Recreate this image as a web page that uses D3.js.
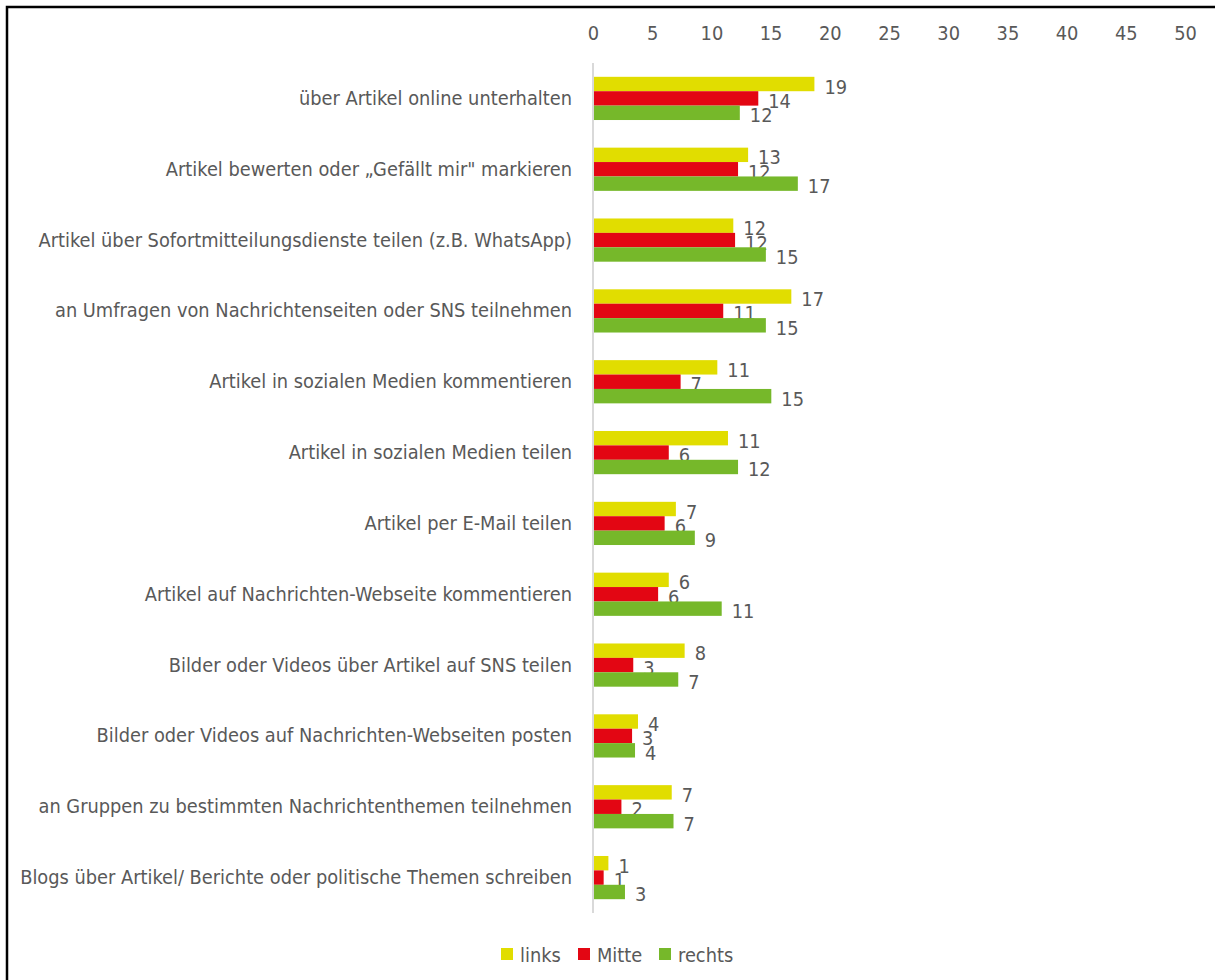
<!DOCTYPE html>
<html><head><meta charset="utf-8">
<script src="https://cdn.jsdelivr.net/npm/d3@7"></script>
<style>
html,body{margin:0;padding:0;background:#fff;}
svg{display:block;}
text{font-family:"Liberation Sans Narrow","DejaVu Sans Condensed","Roboto",sans-serif;fill:#595959;}
</style></head><body>
<svg id="chart" width="1215" height="980"></svg>
<script>
const categories = [
  "über Artikel online unterhalten",
  "Artikel bewerten oder „Gefällt mir\" markieren",
  "Artikel über Sofortmitteilungsdienste teilen (z.B. WhatsApp)",
  "an Umfragen von Nachrichtenseiten oder SNS teilnehmen",
  "Artikel in sozialen Medien kommentieren",
  "Artikel in sozialen Medien teilen",
  "Artikel per E-Mail teilen",
  "Artikel auf Nachrichten-Webseite kommentieren",
  "Bilder oder Videos über Artikel auf SNS teilen",
  "Bilder oder Videos auf Nachrichten-Webseiten posten",
  "an Gruppen zu bestimmten Nachrichtenthemen teilnehmen",
  "Blogs über Artikel/ Berichte oder politische Themen schreiben"
];
const seriesNames = ["links", "Mitte", "rechts"];
const links  = [18.7, 13.1, 11.85, 16.75, 10.5, 11.4, 7.0, 6.4, 7.74, 3.8, 6.65, 1.3];
const mitte  = [13.96, 12.25, 12.0, 11.0, 7.4, 6.4, 6.05, 5.5, 3.4, 3.3, 2.4, 0.9];
const rechts = [12.4, 17.3, 14.6, 14.6, 15.06, 12.25, 8.6, 10.87, 7.2, 3.55, 6.8, 2.7];
const tickValues = [0, 5, 10, 15, 20, 25, 30, 35, 40, 45, 50];
const colors = ["#e1dd00", "#e30613", "#76b82a"];

const seriesValues = [links, mitte, rechts];
const svg = d3.select("#chart");

// frame
svg.append("path").attr("d", "M7,1000 L7,7 L1230,7").attr("fill", "none")
  .attr("stroke", "#000").attr("stroke-width", 2.5);

const x = d3.scaleLinear().domain([0, 50]).range([593, 1185]);
const y = d3.scaleBand().domain(categories).range([63, 913]).paddingInner(0.39).paddingOuter(0.195);
const ySub = d3.scaleBand().domain(seriesNames).range([0, y.bandwidth()]);

// fit font size to reference label width
const probe = svg.append("text").attr("font-size", 20).text(categories[11]);
const w20 = probe.node().getComputedTextLength();
probe.remove();
const fs = Math.min(26, 20 * 552 / w20);

// top axis
const axis = d3.axisTop(x).tickValues(tickValues).tickSize(0).tickPadding(0);
const gA = svg.append("g").attr("transform", "translate(0,40)").call(axis);
gA.select(".domain").remove();
gA.selectAll("text").attr("font-size", fs).attr("fill", "#595959")
  .style("font-family", "'Liberation Sans Narrow','DejaVu Sans Condensed',Roboto,sans-serif");

// vertical axis line
svg.append("line").attr("x1", x(0)).attr("x2", x(0)).attr("y1", 63).attr("y2", 913)
  .attr("stroke", "#d9d9d9").attr("stroke-width", 2);

// category labels
svg.append("g").selectAll("text").data(categories).join("text")
  .attr("x", 572).attr("y", d => y(d) + y.bandwidth() / 2)
  .attr("text-anchor", "end").attr("dominant-baseline", "central")
  .attr("font-size", fs).text(d => d);

// bars
seriesNames.forEach((s, si) => {
  const g = svg.append("g");
  g.selectAll("rect").data(categories).join("rect")
    .attr("x", x(0) + 1)
    .attr("y", d => y(d) + ySub(s))
    .attr("width", (d, i) => x(seriesValues[si][i]) - x(0) - 1)
    .attr("height", ySub.bandwidth())
    .attr("fill", colors[si]);
  g.selectAll("text").data(categories).join("text")
    .attr("x", (d, i) => x(seriesValues[si][i]) + 10)
    .attr("y", d => y(d) + ySub(s) + ySub.bandwidth() / 2 + 3)
    .attr("dominant-baseline", "central")
    .attr("font-size", fs)
    .text((d, i) => Math.round(seriesValues[si][i]));
});

// legend
const legX = [501, 578, 659];
const lg = svg.append("g");
seriesNames.forEach((s, i) => {
  lg.append("rect").attr("x", legX[i]).attr("y", 948).attr("width", 12).attr("height", 12).attr("fill", colors[i]);
  lg.append("text").attr("x", legX[i] + 19).attr("y", 955).attr("dominant-baseline", "central")
    .attr("font-size", fs).text(s);
});
</script>
</body></html>
